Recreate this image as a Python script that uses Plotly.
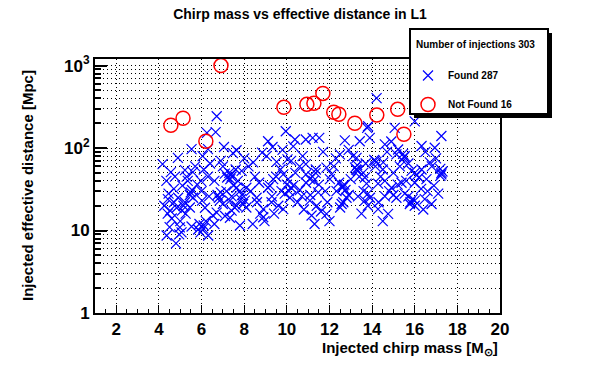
import plotly.graph_objects as go

# ---------------- data ----------------
found_mass = [
    6.71, 6.66, 6.25, 5.53, 6.05, 6.30, 7.05, 7.47, 4.89, 4.17, 4.56, 5.22, 5.59, 5.97, 6.30, 7.09, 7.41, 4.70,
    5.49, 4.42, 5.22, 6.02, 6.81, 7.17, 7.41, 4.52, 5.08, 4.83, 6.16, 6.53, 6.71, 7.41, 7.33, 4.41, 4.98, 5.53,
    5.84, 6.08, 6.31, 4.36, 4.80, 5.06,
    9.95, 10.38, 10.89, 11.21, 11.52, 12.72, 13.42, 13.77, 7.64, 9.12, 9.33, 8.84, 8.42, 9.52, 10.03, 10.74,
    10.89, 11.36, 11.86, 12.49, 13.27, 13.30, 13.58, 7.41, 7.88, 7.64, 7.80, 7.33, 8.03, 7.64, 8.58, 9.12, 9.36,
    9.83, 10.06, 10.30, 10.61, 10.14, 9.75, 9.83, 9.28, 8.89, 8.89, 7.80, 11.08, 11.47, 11.16, 11.86, 12.02,
    12.33, 12.64, 12.80, 12.57, 13.34, 13.34, 13.66, 13.74, 11.08,
    14.21, 15.06, 16.00, 17.25, 13.81, 13.89, 14.60, 15.22, 15.53, 16.32, 16.94, 14.13, 14.52, 15.14, 15.85,
    16.32, 16.71, 17.25, 13.66, 14.28, 14.91, 15.38, 16.00, 16.55, 15.53, 16.00, 16.47, 16.79, 14.60, 15.14,
    13.81, 15.77, 14.28, 14.75, 17.25,
    4.25, 4.45, 4.60, 4.70, 4.90, 5.00, 5.15, 4.35, 4.75, 5.10, 4.50, 4.95,
    5.45, 5.55, 5.60, 5.35, 5.80, 6.00, 5.90, 5.95, 6.10, 6.20, 5.70, 6.10, 5.25, 5.45, 6.35,
    6.75, 6.85, 6.90, 7.00, 7.20, 7.30, 7.35, 7.00, 6.60, 6.90, 7.50, 7.55, 6.60, 7.10,
    7.85, 7.95, 7.90, 8.10, 8.30, 8.50, 8.70, 8.20, 8.60, 8.75, 8.95, 8.00, 7.70, 8.40,
    9.20, 9.50, 9.70, 9.90, 10.10, 10.20, 10.00, 10.40, 10.60, 10.90, 9.40, 9.60, 10.50, 10.80, 9.05, 9.80,
    10.30, 10.70, 10.90,
    11.20, 11.35, 11.25, 11.50, 11.10, 11.40, 11.60, 11.90, 12.10, 12.20, 12.30, 11.70, 12.00, 11.30, 12.45,
    12.60, 12.70, 12.75, 12.65, 12.50, 13.20, 13.30, 13.25, 13.40, 13.10, 13.60, 13.80, 13.50, 12.90, 13.70,
    13.00,
    14.10, 14.20, 14.15, 14.40, 14.60, 14.80, 15.00, 15.20, 14.30, 14.50, 15.30, 15.40, 15.50, 15.45, 14.90,
    14.70, 15.00,
    15.80, 15.90, 16.00, 15.70, 16.10, 16.00, 16.20, 16.60, 16.90, 17.20, 17.30, 17.20, 17.00, 16.50, 15.70,
    16.40, 17.10, 16.80, 15.60,
    5.30, 6.40, 7.60, 8.10, 9.30, 10.20, 11.80, 13.90, 14.50, 16.30, 12.90,
]
found_dist = [
    243, 156, 153, 97, 80, 97, 103, 87, 76, 64, 51, 54, 51, 40, 45, 49, 45, 32,
    29, 24, 22, 23, 25, 30, 26, 17.4, 17.4, 18.9, 18.9, 15.2, 16.5, 17.4, 14.3, 16, 10.9, 11.2,
    10.3, 10.6, 8.7, 8.7, 7.0, 9.5,
    160, 127, 127, 133, 133, 124, 121, 176, 94, 121, 103, 88, 67, 68, 73, 80,
    64, 55, 58, 84, 76, 54, 50, 48, 53, 33, 30, 23, 23, 20, 25, 33, 42,
    48, 42, 35, 31, 25, 30, 18.2, 22, 18.2, 14.5, 11.5, 23, 29, 15.2, 15.9, 42,
    30, 35, 25, 21, 53, 26, 23, 37, 42,
    404, 176, 211, 140, 184, 133, 111, 96, 80, 106, 101, 70, 67, 84, 53,
    55, 67, 48, 44, 37, 33, 38, 38, 42, 28, 23, 24, 21, 26, 25,
    28, 21, 18.2, 15.9, 50,
    20, 28, 14, 22, 25, 13, 20, 40, 45, 35, 11, 9,
    27, 31, 25, 40, 36, 30, 12, 9.5, 11.5, 13, 60, 55, 16, 19, 26,
    27, 23, 29, 21, 44, 50, 42, 60, 40, 70, 35, 19, 12, 15,
    24, 21, 27, 19, 30, 45, 38, 60, 22, 16, 13, 75, 40, 12,
    35, 45, 55, 28, 30, 33, 36, 50, 60, 38, 16, 20, 22, 18, 80, 95,
    105, 26, 48,
    45, 50, 40, 36, 27, 20, 17, 22, 48, 60, 75, 90, 13, 12, 38,
    33, 36, 31, 22, 19, 58, 62, 55, 45, 80, 30, 20, 16, 95, 65,
    42,
    72, 68, 60, 45, 40, 30, 27, 36, 22, 13, 60, 72, 78, 85, 120,
    90, 50,
    22, 24, 20, 26, 47, 50, 44, 30, 35, 46, 52, 56, 75, 90, 65,
    18, 28, 60, 40,
    45, 65, 55, 33, 26, 70, 30, 25, 55, 32, 27,
]
missed_mass = [4.56, 5.13, 6.91, 6.20, 9.86, 10.94, 11.27, 11.69, 12.20, 12.44, 13.19, 14.22, 15.20, 15.49, 16.80, 18.50]
missed_dist = [189, 230, 1000, 121, 312, 339, 349, 460, 272, 257, 200, 251, 295, 147, 500, 300]

n_found = 287
n_missed = 16
n_total = n_found + n_missed

title_text = "Chirp mass vs effective distance in L1"
x_title = "Injected chirp mass [M<sub>⊙</sub>]"
y_title = "Injected effective distance [Mpc]"
x_tickvals = [2, 4, 6, 8, 10, 12, 14, 16, 18, 20]
y_tickvals = [1, 10, 100, 1000]
y_ticktext = ["1", "10", "10<sup>2</sup>", "10<sup>3</sup>"]
y_minorvals = [2, 3, 4, 5, 6, 7, 8, 9, 20, 30, 40, 50, 60, 70, 80, 90,
               200, 300, 400, 500, 600, 700, 800, 900]

FONT = "Liberation Sans"
DOT = "1px,3px"

fig = go.Figure()
fig.add_trace(go.Scatter(
    x=found_mass, y=found_dist, mode="markers", name=f"Found {n_found}",
    legendgroup="a",
    marker=dict(symbol="x-thin-open", size=10, color="#0000ff",
                line=dict(color="#0000ff", width=1.2)),
))
fig.add_trace(go.Scatter(
    x=missed_mass, y=missed_dist, mode="markers", name=f"Not Found {n_missed}",
    legendgroup="b",
    marker=dict(symbol="circle-open", size=14, color="#ff0000",
                line=dict(color="#ff0000", width=1.5)),
))

# plot area geometry helpers (paper coords)
L, R, T, B = 95, 500, 59, 313
W, H = R - L, B - T
def px(x):
    return (x - L) / W
def py(y):
    return (B - y) / H

shapes = [
    dict(type="rect", xref="paper", yref="paper", x0=px(414), x1=px(552), y0=py(118), y1=py(33),
         fillcolor="black", line=dict(width=0), layer="above"),
    dict(type="rect", xref="paper", yref="paper", x0=px(410), x1=px(548), y0=py(114), y1=py(29),
         fillcolor="white", line=dict(color="black", width=2), layer="above"),
]

fig.update_layout(
    width=596, height=374,
    margin=dict(l=L, r=596 - R, t=T, b=374 - B, autoexpand=False),
    paper_bgcolor="white", plot_bgcolor="white",
    font=dict(family=FONT, color="black", weight="bold"),
    title=dict(text=title_text, xref="container", x=300 / 596, xanchor="center",
               yref="container", y=1 - 14 / 374, yanchor="middle",
               font=dict(family=FONT, size=14, weight="bold", color="black")),
    showlegend=True,
    legend=dict(
        x=px(408), y=py(61), xanchor="left", yanchor="top",
        bgcolor="rgba(0,0,0,0)", borderwidth=0,
        font=dict(family=FONT, size=10, weight="bold", color="black"),
        tracegroupgap=10, itemsizing="trace",
    ),
    shapes=shapes,
    annotations=[
        dict(text=f"Number of injections {n_total}", xref="paper", yref="paper", x=px(414), y=py(44),
             xanchor="left", yanchor="middle", showarrow=False,
             font=dict(family=FONT, size=10, weight="bold", color="black")),
        dict(text=x_title, xref="paper", yref="paper", x=1.0, y=py(348), xanchor="right", yanchor="middle",
             showarrow=False, font=dict(family=FONT, size=15, weight="bold", color="black")),
        dict(text=y_title, xref="paper", yref="paper", x=px(27), y=0.5, xanchor="center", yanchor="middle",
             textangle=-90, showarrow=False, font=dict(family=FONT, size=15, weight="bold", color="black")),
    ],
)

fig.update_xaxes(
    range=[1, 20], tickmode="array", tickvals=x_tickvals, automargin=False,
    showline=True, linecolor="black", linewidth=2, mirror=True,
    ticks="inside", ticklen=8, tickwidth=1, tickcolor="black",
    showgrid=True, gridcolor="black", gridwidth=1, griddash=DOT,
    zeroline=False,
    tickfont=dict(family=FONT, size=17, weight="bold", color="black"),
    minor=dict(dtick=0.5, tick0=0, ticks="inside", ticklen=4, tickcolor="black", showgrid=False),
)
fig.update_yaxes(
    type="log", range=[0, 3.08], tickmode="array", tickvals=y_tickvals, ticktext=y_ticktext, automargin=False,
    showline=True, linecolor="black", linewidth=2, mirror=True,
    ticks="inside", ticklen=12, tickwidth=2, tickcolor="black",
    showgrid=True, gridcolor="black", gridwidth=1, griddash=DOT,
    zeroline=False,
    tickfont=dict(family=FONT, size=17, weight="bold", color="black"),
    minor=dict(tickmode="array", tickvals=y_minorvals, ticks="inside", ticklen=6, tickwidth=2,
               tickcolor="black", showgrid=True, gridcolor="black", gridwidth=1, griddash=DOT),
)

fig.write_html("out.html", config={"displayModeBar": False},
               post_script="document.body.style.margin='0px';")
